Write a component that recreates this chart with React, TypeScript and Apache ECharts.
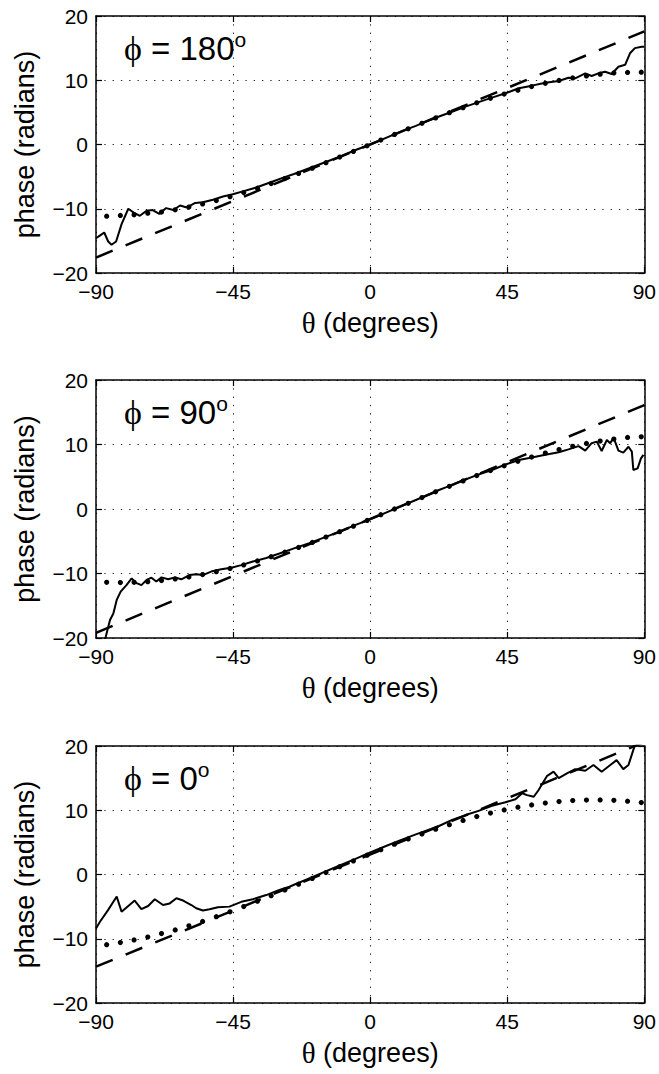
import React, { useEffect, useRef } from "react";
import * as echarts from "echarts";

// ---------- data ----------
const PANEL_ANGLES = ["180", "90", "0"];

// theta positions of the dotted-curve markers (degrees)
const MARKER_THETA = [
  -86.5, -82, -77.5, -73, -68.5, -64, -59.5, -55, -50.5, -46, -41.5, -37, -32.5, -28, -23.5, -19,
  -14.5, -10, -5.5, -1, 3.5, 8, 12.5, 17, 21.5, 26, 30.5, 35, 39.5, 44, 48.5, 53, 57.5, 62, 66.5,
  71, 75.5, 80, 84.5, 89,
];

const DOT_180 = [
  -11.15, -11.05, -10.95, -10.7, -10.51, -10.16, -9.74, -9.26, -8.72, -8.13, -7.49, -6.8, -6.07,
  -5.31, -4.51, -3.68, -2.83, -1.96, -1.08, -0.2, 0.69, 1.57, 2.45, 3.3, 4.14, 4.95, 5.73, 6.48,
  7.19, 7.85, 8.46, 9.02, 9.53, 9.98, 10.36, 10.68, 10.94, 11.13, 11.22, 11.25,
];
const DOT_90 = [
  -11.36, -11.4, -11.36, -11.26, -11.09, -10.84, -10.53, -10.16, -9.72, -9.22, -8.67, -8.06, -7.4,
  -6.7, -5.96, -5.18, -4.36, -3.52, -2.66, -1.78, -0.89, 0, 0.89, 1.78, 2.66, 3.52, 4.36, 5.18,
  5.96, 6.7, 7.4, 8.06, 8.67, 9.22, 9.72, 10.16, 10.53, 10.84, 11.09, 11.2,
];
const DOT_0 = [
  -10.93, -10.6, -10.19, -9.73, -9.2, -8.62, -7.99, -7.3, -6.57, -5.8, -4.99, -4.16, -3.29, -2.41,
  -1.51, -0.61, 0.3, 1.21, 2.11, 3.0, 3.87, 4.72, 5.54, 6.32, 7.06, 7.76, 8.41, 9.01, 9.56, 10.05,
  10.47, 10.83, 11.12, 11.35, 11.5, 11.58, 11.6, 11.54, 11.41, 11.2,
];

// straight (dashed) reference lines
const DASH_THETA = [-90, 90];
const DASH_180 = [-17.6, 17.6];
const DASH_90 = [-19.2, 16.1];
const DASH_0 = [-14.35, 20.6];

// measured (solid) curves: [theta, phase]
const SOLID_180: [number, number][] = [
  [-90, -14.6], [-88.5, -14.1], [-87.3, -13.7], [-86, -15.1], [-84.9, -15.6], [-83.4, -15.1],
  [-81.6, -12.4], [-79.4, -10.0], [-77.6, -10.6], [-75.6, -11.1], [-73.4, -10.3], [-71.4, -10.2],
  [-69.2, -10.8], [-67, -9.9], [-64.6, -10.2], [-62.4, -9.5], [-60.2, -9.8], [-57.4, -9.1],
  [-54.9, -9.0], [-51.6, -8.6], [-48.3, -8.1], [-45.1, -7.75], [-41.8, -7.3], [-37.4, -6.7],
  [-33.1, -5.95], [-27.6, -5.0], [-25, -4.6], [-20, -3.7], [-15, -2.8], [-10, -1.9], [-5, -0.9],
  [0, 0], [5, 1.0], [10, 2.0], [15, 2.9], [20, 3.9], [22.6, 4.35], [26.9, 5.1], [31.3, 5.9],
  [35.6, 6.6], [40, 7.3], [44.4, 7.97], [48.8, 8.75], [53.1, 9.16], [57.5, 9.62], [61.9, 9.89],
  [65.1, 10.4], [67.3, 10.3], [70.6, 11.08], [72.7, 10.66], [74.9, 11.08], [77.1, 11.33],
  [79.3, 10.97], [81.5, 12.1], [83.7, 12.4], [85.3, 14.2], [86.9, 15.0], [89.1, 15.2], [90, 15.2],
];
const SOLID_90: [number, number][] = [
  [-89, -23.5], [-86.8, -19.8], [-85.4, -17.2], [-84.3, -16.2], [-83.2, -14.1], [-81.9, -12.8],
  [-80, -11.8], [-78.3, -10.75], [-76.7, -11.5], [-75.1, -11.8], [-73.4, -11.0], [-71.8, -10.65],
  [-70.2, -11.25], [-68.5, -10.6], [-66.3, -10.9], [-64.1, -10.6], [-62, -10.9], [-59.3, -10.25],
  [-57.1, -10.1], [-54.9, -10.25], [-52.2, -9.7], [-48.9, -9.35], [-45.6, -9.1], [-42.3, -8.7],
  [-38.5, -8.15], [-34.1, -7.6], [-29.8, -6.9], [-25, -6.1], [-20, -5.3], [-15, -4.4],
  [-10, -3.5], [-5, -2.5], [0, -1.6], [5, -0.6], [10, 0.4], [15, 1.4], [20, 2.4], [22.6, 2.95],
  [25, 3.4], [30, 4.35], [35, 5.25], [40, 6.05], [44.4, 6.9], [48.8, 7.6], [53.1, 8.0],
  [57.5, 8.4], [61.9, 8.8], [65.1, 9.25], [68.4, 9.75], [70.6, 9.05], [72.7, 10.2], [74.4, 10.45],
  [76, 9.0], [77.7, 10.7], [78.8, 10.2], [79.9, 11.05], [81.5, 9.05], [83.1, 8.75], [84.8, 9.65],
  [85.9, 8.9], [86.4, 6.05], [87.8, 6.3], [88.9, 7.85], [89.7, 8.4],
];
const SOLID_0: [number, number][] = [
  [-90, -8.4], [-88.7, -7.35], [-86, -5.5], [-84.3, -4.25], [-83.2, -3.45], [-81.6, -5.8],
  [-79.4, -4.9], [-77.3, -4.05], [-75.1, -5.4], [-72.9, -4.9], [-70.7, -3.85], [-68, -4.75],
  [-65.8, -4.5], [-63.6, -3.7], [-61.4, -4.05], [-58.7, -4.75], [-57.1, -5.25], [-54.9, -5.6],
  [-52.7, -5.4], [-50, -5.1], [-46.2, -5.0], [-42.3, -4.25], [-38.5, -3.85], [-34.1, -3.2],
  [-29.8, -2.4], [-26.5, -1.9], [-25, -1.6], [-20, -0.6], [-15, 0.4], [-10, 1.4], [-5, 2.4],
  [0, 3.45], [5, 4.4], [10, 5.35], [15, 6.25], [20, 7.1], [22.6, 7.55], [26.9, 8.5], [31.3, 9.25],
  [35.6, 9.9], [40, 10.7], [44.4, 11.25], [47.7, 11.7], [49.9, 12.65], [51.5, 12.35],
  [53.7, 12.1], [55.3, 13.15], [58, 15.3], [60.2, 16.0], [61.9, 15.0], [64.6, 15.75],
  [67.3, 16.4], [70.6, 16.15], [73.3, 17.05], [76, 16.0], [78.2, 16.8], [80.9, 17.8], [83.1, 16.4],
  [84.8, 17.05], [86.4, 19.4], [87.5, 20.9], [89, 23.5],
];

const SOLIDS = [SOLID_180, SOLID_90, SOLID_0];
const DOTS = [DOT_180, DOT_90, DOT_0];
const DASHES = [DASH_180, DASH_90, DASH_0];

// ---------- layout ----------
const GRID_LEFT = 96;
const GRID_WIDTH = 550;
const GRID_TOPS = [16, 380, 746];
const GRID_HEIGHTS = [257, 258, 257];

const SANS = "'Liberation Sans', Arial, Helvetica, sans-serif";
const SERIF = "'Liberation Serif', 'Times New Roman', serif";

const fmt = (v: number) => (v < 0 ? "\u2212" + Math.abs(v) : String(v));

export default function App() {
  const ref = useRef<HTMLDivElement>(null);

  useEffect(() => {
    if (!ref.current) return;
    const chart = echarts.init(ref.current, undefined, { renderer: "svg" });

    const grids: any[] = [];
    const xAxes: any[] = [];
    const yAxes: any[] = [];
    const series: any[] = [];
    const graphics: any[] = [];

    const axisLine = { show: true, onZero: false, lineStyle: { color: "#000", width: 1.5 } };
    const axisTick = { show: true, inside: true, length: 6, lineStyle: { color: "#000", width: 1.2 } };
    const gridLine = { show: true, lineStyle: { color: "#222", width: 1, type: [1.3, 7] } };
    const tickLabel = { fontSize: 21, color: "#000", fontFamily: SANS, margin: 8, formatter: fmt };

    for (let i = 0; i < 3; i++) {
      const top = GRID_TOPS[i];
      grids.push({ left: GRID_LEFT, top, width: GRID_WIDTH, height: GRID_HEIGHTS[i], containLabel: false });

      xAxes.push({
        type: "value", gridIndex: i, position: "bottom", min: -90, max: 90, interval: 45,
        axisLine, axisTick, axisLabel: tickLabel,
        splitLine: gridLine,
        name: "{t|\u03b8} (degrees)",
        nameLocation: "middle", nameGap: 35,
        nameTextStyle: {
          fontSize: 27, color: "#000", fontFamily: SANS,
          rich: { t: { fontSize: 29, fontFamily: SERIF, color: "#000" } },
        },
      });
      xAxes.push({
        type: "value", gridIndex: i, position: "top", min: -90, max: 90, interval: 45,
        axisLine, axisTick, axisLabel: { show: false }, splitLine: { show: false },
      });
      yAxes.push({
        type: "value", gridIndex: i, position: "left", min: -20, max: 20, interval: 10,
        axisLine, axisTick, axisLabel: tickLabel,
        splitLine: gridLine,
        name: "phase (radians)", nameLocation: "middle", nameGap: 58,
        nameTextStyle: { fontSize: 27, color: "#000", fontFamily: SANS },
      });
      yAxes.push({
        type: "value", gridIndex: i, position: "right", min: -20, max: 20, interval: 10,
        axisLine, axisTick, axisLabel: { show: false }, splitLine: { show: false },
      });

      series.push({
        type: "line", xAxisIndex: 2 * i, yAxisIndex: 2 * i,
        data: DASH_THETA.map((t, k) => [t, DASHES[i][k]]),
        showSymbol: false, clip: true, z: 2,
        lineStyle: { color: "#000", width: 2.5, type: [18, 14] },
      });
      series.push({
        type: "scatter", xAxisIndex: 2 * i, yAxisIndex: 2 * i,
        data: MARKER_THETA.map((t, k) => [t, DOTS[i][k]]),
        symbol: "circle", symbolSize: 5.2, clip: true, z: 3,
        itemStyle: { color: "#000", opacity: 1 },
      });
      series.push({
        type: "line", xAxisIndex: 2 * i, yAxisIndex: 2 * i,
        data: SOLIDS[i], showSymbol: false, clip: true, z: 4,
        lineStyle: { color: "#000", width: 2 },
      });

      graphics.push({
        type: "text", x: 124, y: top + 12.5, z: 10,
        style: {
          text: "{p|\u03d5}{m| = " + PANEL_ANGLES[i] + "}{s|o}",
          verticalAlign: "top", align: "left",
          rich: {
            p: { fontSize: 34, fontFamily: SERIF, lineHeight: 40, fill: "#000", color: "#000" },
            m: { fontSize: 33, fontFamily: SANS, lineHeight: 40, fill: "#000", color: "#000" },
            s: { fontSize: 21, fontFamily: SANS, lineHeight: 2, verticalAlign: "top", fill: "#000", color: "#000" },
          },
        },
      });
    }

    chart.setOption({
      animation: false,
      backgroundColor: "#fff",
      textStyle: { fontFamily: SANS, color: "#000" },
      grid: grids,
      xAxis: xAxes,
      yAxis: yAxes,
      series,
      graphic: graphics,
    });

    return () => chart.dispose();
  }, []);

  return (
    <div
      ref={ref}
      style={{ position: "fixed", left: 0, top: 0, width: 659, height: 1074, background: "#fff" }}
    />
  );
}
